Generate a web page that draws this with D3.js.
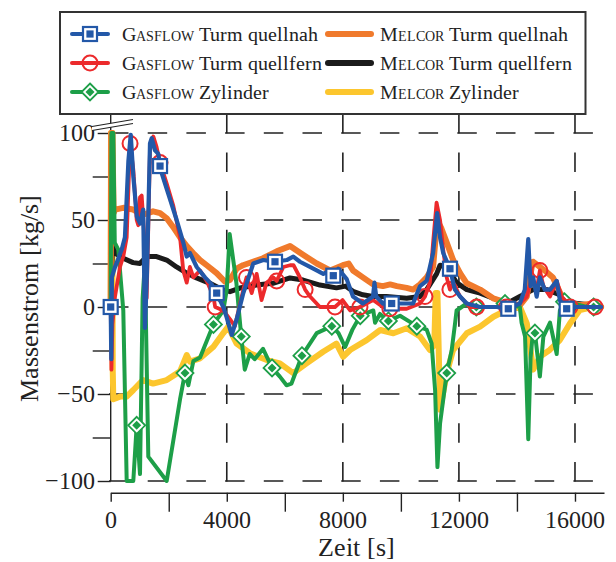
<!DOCTYPE html>
<html>
<head>
<meta charset="utf-8">
<script src="https://cdn.jsdelivr.net/npm/d3@7"></script>
<style>
  @font-face { font-family: "ChartSerif"; src: local("Liberation Serif"), local("LiberationSerif"), local("Tinos"); }
  svg text, svg tspan { font-family: "ChartSerif", "Liberation Serif", Tinos, serif !important; }
</style>
</head>
<body style="margin:0">
<svg id="s" width="616" height="562"></svg>
<script>
// ---- axis ticks -------------------------------------------------------
const xTicks = [0, 4000, 8000, 12000, 16000];
const xMinorTicks = [2000, 6000, 10000, 14000];
const yTicks = [100, 50, 0, -50, -100];
const yMinorTicks = [75, 25, -25, -75];

// ---- series: [Zeit in s, Massenstrom in kg/s] -------------------------
const gasflowTurmNah = [[0,0],[20,-30],[40,17],[150,23],[380,33],[490,40],[610,84],[690,99],[780,75],[900,52],[1010,48],[1120,56],[1180,-12],[1250,20],[1354,94],[1413,97],[1527,90],[1640,88],[1700,81],[1757,77],[1985,65],[2274,50],[2502,37],[2619,29],[2733,31],[2964,23],[3250,17],[3480,13],[3653,8],[3880,0],[3997,-6],[4170,-16],[4342,-7],[4570,8],[4914,25],[5259,27],[5603,26],[5662,26],[6065,27],[6292,29],[6523,26],[6868,23],[7326,19],[7557,21],[7671,18],[7843,22],[8133,16],[8350,6],[8690,2],[9040,6],[9090,14],[9150,6],[9380,2],[9625,4],[9683,2],[10000,2],[10420,2],[10660,12],[10890,15],[11110,31],[11250,54],[11350,40],[11460,31],[11692,22],[11860,10],[12040,6],[12270,2],[12730,0],[13300,0],[13702,-1],[14100,2],[14270,10],[14390,39],[14470,12],[14560,17],[14680,6],[14790,17],[14960,10],[15140,10],[15370,15],[15480,4],[15600,0],[15714,-1],[16000,0],[16900,0]];
const gasflowTurmNahMarks = [0, 1700, 3653, 5662, 7671, 9683, 11692, 13702, 15714];

const gasflowTurmFern = [[0,0],[25,-36],[60,-10],[148,6],[320,23],[434,29],[551,40],[667,94],[779,79],[896,50],[951,47],[1010,63],[1068,64],[1123,50],[1182,33],[1240,5],[1354,90],[1470,98],[1580,92],[1700,83],[1930,71],[2160,58],[2390,40],[2500,21],[2620,14],[2730,23],[2850,17],[3080,21],[3310,15],[3540,6],[3600,0],[3880,-2],[4110,-7],[4280,-11],[4570,10],[4680,17],[4860,8],[5030,19],[5200,4],[5370,14],[5600,17],[5720,15],[5950,23],[6180,24],[6300,24],[6520,17],[6700,10],[6870,6],[7210,0],[7560,0],[7730,0],[7990,4],[8250,-2],[8590,0],[9040,4],[9380,0],[9620,-1],[10200,-1],[10660,2],[10830,6],[11000,14],[11110,37],[11230,60],[11350,50],[11460,33],[11580,17],[11690,10],[11800,14],[12040,6],[12380,0],[12610,0],[13640,0],[14100,2],[14340,6],[14510,17],[14680,10],[14790,21],[14910,12],[15140,6],[15370,15],[15540,6],[15830,0],[16690,0],[16900,0]];
const gasflowTurmFernMarks = [667, 1700, 3600, 4680, 5720, 6700, 7730, 8590, 9620, 10830, 11690, 12610, 13640, 14790, 15830, 16690];

const gasflowZylinder = [[0,0],[25,100],[90,100],[140,37],[262,33],[350,15],[434,-2],[551,-100],[779,-100],[896,-68],[1010,-96],[1100,5],[1150,18],[1200,5],[1296,-86],[1930,-100],[2390,-53],[2560,-38],[2676,-45],[2850,-31],[3080,-29],[3540,-10],[3880,-2],[4000,10],[4100,42],[4330,14],[4500,-17],[4620,-36],[4790,-27],[4960,-30],[5250,-24],[5560,-35],[5830,-40],[6060,-45],[6230,-44],[6590,-28],[7100,-15],[7620,-11],[7850,-15],[8080,-23],[8330,-13],[8600,-5],[9050,-2],[9110,-9],[9280,-4],[9570,-8],[9970,-5],[10550,-11],[10890,-13],[11060,-21],[11180,-48],[11260,-92],[11350,-67],[11580,-38],[11750,-25],[11870,-9],[11920,-2],[12270,2],[12600,0],[13300,0],[13590,2],[14100,0],[14160,-9],[14280,-17],[14390,-76],[14470,-29],[14560,-13],[14620,-15],[14790,-40],[14910,-17],[15140,-9],[15370,-27],[15480,-2],[15640,3],[15940,2],[16400,0],[16640,0],[16900,0]];
const gasflowZylinderMarks = [896, 2560, 3540, 4500, 5560, 6590, 7620, 8600, 9570, 10550, 11580, 12600, 13590, 14620, 15640, 16640];

const melcorTurmNah = [[0,0],[15,100],[60,100],[100,54],[150,56],[430,57],[770,56],[1110,53],[1460,55],[1700,54],[1930,51],[2150,46],[2390,40],[2620,35],[2840,31],[3080,27],[3310,24],[3650,19.5],[3940,14.5],[4110,15.5],[4340,22],[4560,24],[4900,26],[5250,28],[5720,32],[6180,35],[6630,30],[7100,25],[7560,21],[8000,24],[8200,25],[8350,21],[8690,17],[9040,13],[9380,12],[9630,13],[9860,12],[10200,11],[10420,10],[10660,13],[10890,17],[11110,23],[11250,50],[11400,45],[11580,37],[11800,27],[12040,19.5],[12270,13.6],[12730,10],[13180,5],[13650,2.5],[14100,1],[14340,6],[14510,23],[14560,26],[15030,20],[15240,17],[15490,8],[15710,3],[16170,1],[16620,2],[16900,0]];

const melcorTurmFern = [[0,0],[60,36],[150,31],[430,28],[770,25.5],[1010,25],[1240,29],[1580,29],[1930,27],[2270,23],[2620,19.5],[2960,16.7],[3420,13.6],[3870,9.8],[4110,8.8],[4450,10.9],[5020,12.6],[5590,13.6],[6180,16.7],[6630,15.5],[7210,12.6],[7780,11],[8100,12],[8350,9],[8690,7],[9040,6],[9500,6],[10200,5],[10660,6],[10890,10],[11230,19],[11350,24],[11580,23],[11920,14],[12270,10],[12730,8],[13180,5],[13650,2],[14100,6],[14560,10],[15030,10],[15490,7],[15940,2.3],[16620,1],[16900,0]];

const melcorZylinder = [[0,0],[10,100],[50,100],[70,-36],[90,-53],[320,-51.5],[550,-51.5],[780,-47.7],[1110,-42],[1460,-44],[1930,-42],[2390,-37],[2620,-27.6],[2730,-31.4],[3080,-29.5],[3540,-22.8],[3880,-15],[4050,-11.3],[4340,-21],[4800,-26.6],[5380,-30.5],[5830,-32.4],[6290,-38],[6750,-32.4],[7320,-25.7],[7780,-21],[8010,-28.6],[8250,-24.7],[8820,-19],[9290,-13.2],[9740,-15.1],[10200,-12.2],[10660,-17],[11000,-24.7],[11150,-22],[11200,8],[11260,8],[11350,-59],[11580,-38],[11800,-24.7],[12270,-15.1],[12730,-11.3],[13190,-5.6],[13650,-1.7],[14100,0],[14340,-9.4],[14560,-36],[14790,-28.6],[15130,-24.7],[15480,-19],[15830,-9.4],[16170,-1.7],[16620,0],[16900,0]];

// ---- styles -----------------------------------------------------------
const C = {
  blue: "#2358a8", red: "#ec2a2c", green: "#1d9f48",
  orange: "#f07a2c", black: "#1b1b1b", yellow: "#fcc62e", grid: "#222"
};

const svg = d3.select("#s");
const x = d3.scaleLinear().domain([0, 17000]).range([110.7, 604]);
const y = d3.scaleLinear().domain([-100, 100]).range([481, 133]);

// ---- grid -------------------------------------------------------------
const grid = svg.append("g").attr("stroke", C.grid).attr("stroke-width", 1.6)
  .attr("stroke-dasharray", "19.5,19.2").attr("fill", "none");
grid.selectAll("line.h").data(yTicks).join("line").attr("class", "h")
  .attr("x1", 109).attr("x2", 604).attr("y1", d => y(d)).attr("y2", d => y(d));
grid.selectAll("line.v").data(xTicks.filter(d => d > 0)).join("line").attr("class", "v")
  .attr("x1", d => x(d)).attr("x2", d => x(d)).attr("y1", y(-100) + 0.5).attr("y2", 114);

// ---- axes -------------------------------------------------------------
const axisStyle = g => {
  g.attr("font-family", null).attr("font-size", 24);
  g.selectAll("path, line").attr("stroke", "#222").attr("stroke-width", 1.4);
  g.selectAll("text").attr("font-size", 24).attr("fill", "#222");
};
const xAxisY = 492.7;
svg.append("g").attr("transform", `translate(0,${xAxisY})`)
  .call(d3.axisBottom(x).tickValues(xTicks).tickFormat(d3.format("d"))
    .tickSize(9).tickSizeOuter(0).tickPadding(9))
  .call(axisStyle);
svg.append("g").attr("transform", `translate(0,${xAxisY})`)
  .call(d3.axisBottom(x).tickValues(xMinorTicks).tickFormat("").tickSize(19).tickSizeOuter(0))
  .call(g => g.select(".domain").remove())
  .call(axisStyle);

const yAxisX = x(0);
svg.append("g").attr("transform", `translate(${yAxisX},0)`)
  .call(d3.axisLeft(y).tickValues(yTicks).tickFormat(d3.format("d")).tickSize(13).tickPadding(3))
  .call(g => g.select(".domain").remove())
  .call(axisStyle);
svg.append("g").attr("transform", `translate(${yAxisX},0)`)
  .call(d3.axisLeft(y).tickValues(yMinorTicks).tickFormat("").tickSize(18))
  .call(g => g.select(".domain").remove())
  .call(axisStyle);
svg.append("line").attr("x1", yAxisX).attr("x2", yAxisX).attr("y1", 114).attr("y2", y(-100))
  .attr("stroke", "#222").attr("stroke-width", 1.4);

// axis break above 100
svg.append("path").attr("d", "M92,126.5 L133,119.5 L133,123.5 L92,130.5 Z").attr("fill", "#fff");
svg.append("g").attr("stroke", "#222").attr("stroke-width", 1.2)
  .selectAll("line").data([0, 4]).join("line")
  .attr("x1", 92).attr("y1", d => 126.5 + d).attr("x2", 133).attr("y2", d => 119.5 + d);

// axis titles
svg.append("text").attr("x", 356).attr("y", 556).attr("text-anchor", "middle")
  .attr("font-size", 26).attr("fill", "#222").text("Zeit [s]");
svg.append("text").attr("transform", "translate(37.5,298) rotate(-90)").attr("text-anchor", "middle")
  .attr("font-size", 26).attr("fill", "#222").text("Massenstrom [kg/s]");

// ---- lines ------------------------------------------------------------
const line = d3.line().x(d => x(d[0])).y(d => y(d[1]));
const series = [
  { data: melcorZylinder, color: C.yellow, width: 6 },
  { data: melcorTurmFern, color: C.black, width: 5 },
  { data: melcorTurmNah, color: C.orange, width: 6 },
  { data: gasflowZylinder, color: C.green, width: 4, marks: gasflowZylinderMarks, marker: "diamond" },
  { data: gasflowTurmFern, color: C.red, width: 3.8, marks: gasflowTurmFernMarks, marker: "circle" },
  { data: gasflowTurmNah, color: C.blue, width: 4.2, marks: gasflowTurmNahMarks, marker: "square" }
];

function drawMarker(g, type, color) {
  if (type === "square") {
    g.append("rect").attr("x", -7).attr("y", -7).attr("width", 14).attr("height", 14)
      .attr("fill", "#fff").attr("stroke", color).attr("stroke-width", 2.2);
    g.append("rect").attr("x", -3.6).attr("y", -3.6).attr("width", 7.2).attr("height", 7.2)
      .attr("fill", color);
  } else if (type === "circle") {
    g.append("circle").attr("r", 7.5).attr("fill", "none").attr("stroke", color).attr("stroke-width", 2);
  } else {
    g.append("path").attr("d", "M0,-8.5 L8.5,0 L0,8.5 L-8.5,0 Z")
      .attr("fill", "#fff").attr("stroke", color).attr("stroke-width", 1.8);
    g.append("path").attr("d", "M0,-4.5 L4.5,0 L0,4.5 L-4.5,0 Z").attr("fill", color);
  }
}

series.forEach(s => {
  svg.append("path").datum(s.data).attr("d", line).attr("fill", "none")
    .attr("stroke", s.color).attr("stroke-width", s.width)
    .attr("stroke-linejoin", "round").attr("stroke-linecap", "round");
  if (s.marks) {
    const pts = s.data.filter(d => s.marks.includes(d[0]));
    pts.forEach(d => {
      const g = svg.append("g").attr("transform", `translate(${x(d[0])},${y(d[1])})`);
      drawMarker(g, s.marker, s.color);
    });
  }
});

// ---- legend -----------------------------------------------------------
const legendItems = [
  { brand: "Gasflow", label: "Turm quellnah", color: C.blue, width: 4, marker: "square", col: 0, row: 0 },
  { brand: "Gasflow", label: "Turm quellfern", color: C.red, width: 4, marker: "circle", col: 0, row: 1 },
  { brand: "Gasflow", label: "Zylinder", color: C.green, width: 4, marker: "diamond", col: 0, row: 2 },
  { brand: "Melcor", label: "Turm quellnah", color: C.orange, width: 6, col: 1, row: 0 },
  { brand: "Melcor", label: "Turm quellfern", color: C.black, width: 6, col: 1, row: 1 },
  { brand: "Melcor", label: "Zylinder", color: C.yellow, width: 6, col: 1, row: 2 }
];
const legend = svg.append("g");
legend.append("rect").attr("x", 60).attr("y", 12).attr("width", 525.5).attr("height", 102)
  .attr("fill", "#fff").attr("stroke", "#333").attr("stroke-width", 2);
const colX = [{ l0: 72, l1: 108, t: 121.5 }, { l0: 328, l1: 371, t: 379.5 }];
const rowY = [34, 63, 92];
legendItems.forEach(it => {
  const c = colX[it.col], yy = rowY[it.row];
  legend.append("line").attr("x1", c.l0).attr("x2", c.l1).attr("y1", yy).attr("y2", yy)
    .attr("stroke", it.color).attr("stroke-width", it.width).attr("stroke-linecap", "round");
  if (it.marker) {
    const g = legend.append("g").attr("transform", `translate(${(c.l0 + c.l1) / 2},${yy})`);
    drawMarker(g, it.marker, it.color);
  }
  const t = legend.append("text").attr("x", c.t).attr("y", yy + 6.5)
    .attr("font-size", 19.5).attr("fill", "#222");
  t.append("tspan").style("font-variant", "small-caps").text(it.brand);
  t.append("tspan").text(" " + it.label);
});
</script>
</body>
</html>
